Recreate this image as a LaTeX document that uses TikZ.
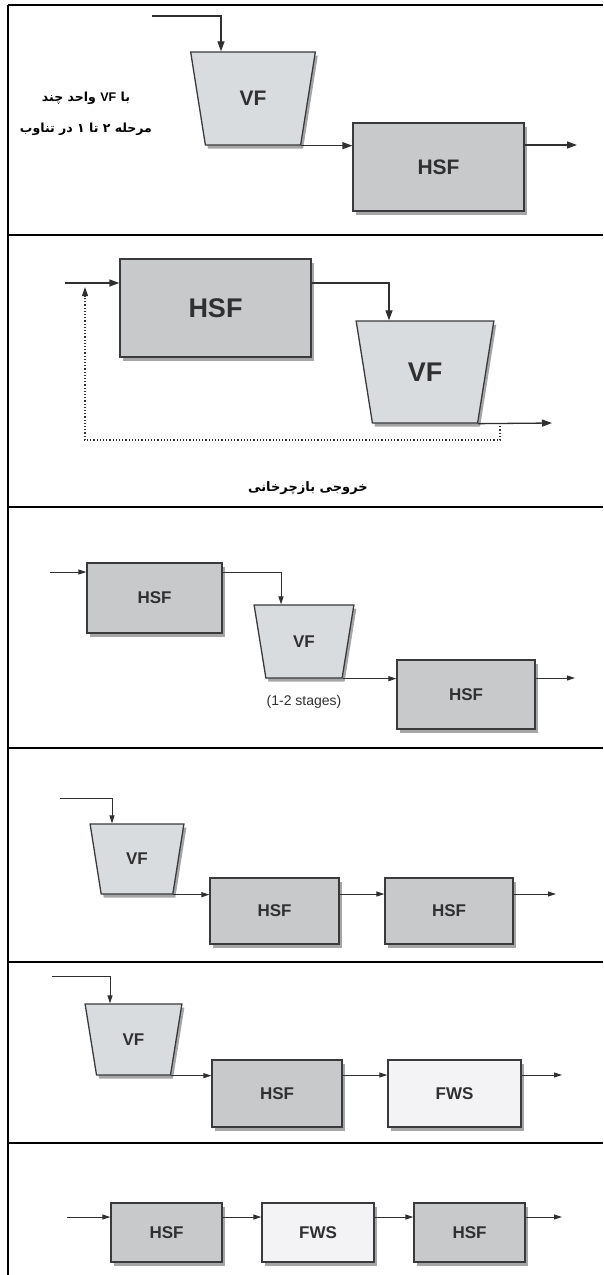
\documentclass[tikz,border=0pt]{standalone}
\usepackage{fontspec}
\setmainfont{Liberation Sans}
\newfontfamily\arabicfont[Script=Arabic]{DejaVu Sans}
\TeXXeTstate=1
\usetikzlibrary{arrows.meta,shapes.geometric,shadows}

% one right-to-left word, kept in its own box
\newcommand{\rword}[1]{\hbox{\beginR #1\endR}}

\definecolor{hsfgray}{RGB}{200,201,203}
\definecolor{vfgray}{RGB}{217,220,223}
\definecolor{fwsgray}{RGB}{243,243,245}
\definecolor{edgegray}{RGB}{58,58,60}
\definecolor{inkgray}{RGB}{48,48,48}

\tikzset{
    unit/.style={draw=edgegray, line width=1.3pt, text=inkgray, inner sep=0pt,
        drop shadow={shadow xshift=2.5pt, shadow yshift=-3.5pt, opacity=0.35, fill=black}},
    hsf/.style={unit, rectangle, fill=hsfgray},
    fws/.style={unit, rectangle, fill=fwsgray},
    vf/.style={unit, trapezium, trapezium angle=74, trapezium stretches=true,
        shape border rotate=180, fill=vfgray},
    biglabel/.style={font=\bfseries\fontsize{21}{21}\selectfont},
    hugelabel/.style={font=\bfseries\fontsize{27}{27}\selectfont},
    smalllabel/.style={font=\bfseries\fontsize{17}{17}\selectfont},
    flow/.style={draw=inkgray, line width=1.3pt, -{Triangle[length=10pt,width=7pt]}},
    thinflow/.style={draw=inkgray, line width=1pt, -{Triangle[length=8pt,width=5pt]}},
    recycle/.style={draw=inkgray, line width=1.2pt, dotted, shorten >=4pt,
        -{Triangle[length=9pt,width=6pt]}},
    rule/.style={line width=1.5pt, black},
}

\begin{document}
\begin{tikzpicture}[x=1pt,y=-1pt]
\useasboundingbox (0,0) rectangle (603,1275);

% table rules
\draw[line width=2pt] (8,5) -- (8,1275);
\foreach \yy in {5,235,507,748,962,1143}
    \draw[rule] (8,\yy) -- (603,\yy);

% --- row 1: VF then HSF
\node[vf, biglabel, minimum width=125pt, minimum height=93pt] (p1vf) at (253,98.5) {VF};
\node[hsf, biglabel, minimum width=171pt, minimum height=88pt] (p1hsf) at (438.5,167) {HSF};
\node[font=\arabicfont\bfseries\fontsize{12.5}{31}\selectfont, align=center] (p1note) at (86,114)
    {\rword{چند}\ \rword{واحد}\ {\normalfont\bfseries VF}\ \rword{با}\\
     \rword{تناوب}\ \rword{در}\ \rword{۱}\ \rword{تا}\ \rword{۲}\ \rword{مرحله}};
\coordinate (p1in) at (152,16);
\coordinate (p1out) at (577,145);
\draw[flow] (p1in) -| ([xshift=-32pt]p1vf.north);
\draw[flow] (p1vf.top left corner) -- (p1hsf.west |- p1vf.top left corner);
\draw[flow] (p1hsf.east |- p1out) -- (p1out);

% --- row 2: HSF then VF, with recirculation
\node[hsf, hugelabel, minimum width=191pt, minimum height=98pt] (p2hsf) at (215.5,308) {HSF};
\node[vf, hugelabel, minimum width=138pt, minimum height=102pt] (p2vf) at (425,372) {VF};
\node[font=\arabicfont\bfseries\fontsize{13}{13}\selectfont] (p2note) at (308,488)
    {\rword{بازچرخانی}\ \rword{خروجی}};
\coordinate (p2in) at (65,283);
\coordinate (p2join) at (85,283);
\coordinate (p2tap) at (500,423);
\coordinate (p2out) at (552,423);
\draw[flow] (p2in) -- (p2hsf.west |- p2in);
\draw[flow] (p2hsf.east |- p2in) -| ([xshift=-36pt]p2vf.north);
\draw[flow] (p2vf.top left corner) -- (p2out);
\draw[recycle] (p2tap) -- ++(0,17) -| (p2join);

% --- row 3: HSF, VF (1-2 stages), HSF
\node[hsf, smalllabel, minimum width=135pt, minimum height=70pt] (p3hsfa) at (154.5,598) {HSF};
\node[vf, smalllabel, minimum width=100pt, minimum height=73pt] (p3vf) at (304,641.5) {VF};
\node[hsf, smalllabel, minimum width=138pt, minimum height=69pt] (p3hsfb) at (466,694.5) {HSF};
\node[text=inkgray, font=\fontsize{14}{14}\selectfont] (p3stages) at (304,702) {(1-2 stages)};
\coordinate (p3in) at (50,572);
\coordinate (p3out) at (575,678);
\draw[thinflow] (p3in) -- (p3hsfa.west |- p3in);
\draw[thinflow] (p3hsfa.east |- p3in) -| ([xshift=-23pt]p3vf.north);
\draw[thinflow] (p3vf.top left corner) -- (p3hsfb.west |- p3vf.top left corner);
\draw[thinflow] (p3hsfb.east |- p3out) -- (p3out);

% --- row 4: VF, HSF, HSF
\node[vf, smalllabel, minimum width=94pt, minimum height=70pt] (p4vf) at (137,859) {VF};
\node[hsf, smalllabel, minimum width=129pt, minimum height=66pt] (p4hsfa) at (274.5,911) {HSF};
\node[hsf, smalllabel, minimum width=128pt, minimum height=66pt] (p4hsfb) at (449,911) {HSF};
\coordinate (p4in) at (60,798);
\coordinate (p4out) at (556,894);
\draw[thinflow] (p4in) -| ([xshift=-25pt]p4vf.north);
\draw[thinflow] (p4vf.top left corner) -- (p4hsfa.west |- p4vf.top left corner);
\draw[thinflow] (p4hsfa.east |- p4out) -- (p4hsfb.west |- p4out);
\draw[thinflow] (p4hsfb.east |- p4out) -- (p4out);

% --- row 5: VF, HSF, FWS
\node[vf, smalllabel, minimum width=97pt, minimum height=71pt] (p5vf) at (133.5,1039.5) {VF};
\node[hsf, smalllabel, minimum width=130pt, minimum height=67pt] (p5hsf) at (277,1093.5) {HSF};
\node[fws, smalllabel, minimum width=133pt, minimum height=67pt] (p5fws) at (454.5,1093.5) {FWS};
\coordinate (p5in) at (52,976);
\coordinate (p5out) at (562,1075);
\draw[thinflow] (p5in) -| ([xshift=-23.5pt]p5vf.north);
\draw[thinflow] (p5vf.top left corner) -- (p5hsf.west |- p5vf.top left corner);
\draw[thinflow] (p5hsf.east |- p5out) -- (p5fws.west |- p5out);
\draw[thinflow] (p5fws.east |- p5out) -- (p5out);

% --- row 6: HSF, FWS, HSF
\node[hsf, smalllabel, minimum width=111pt, minimum height=59pt] (p6hsfa) at (166.5,1232.5) {HSF};
\node[fws, smalllabel, minimum width=112pt, minimum height=59pt] (p6fws) at (318,1232.5) {FWS};
\node[hsf, smalllabel, minimum width=111pt, minimum height=59pt] (p6hsfb) at (469.5,1232.5) {HSF};
\coordinate (p6in) at (67,1217);
\coordinate (p6out) at (562,1217);
\draw[thinflow] (p6in) -- (p6hsfa.west |- p6in);
\draw[thinflow] (p6hsfa.east |- p6in) -- (p6fws.west |- p6in);
\draw[thinflow] (p6fws.east |- p6in) -- (p6hsfb.west |- p6in);
\draw[thinflow] (p6hsfb.east |- p6out) -- (p6out);
\end{tikzpicture}
\end{document}
